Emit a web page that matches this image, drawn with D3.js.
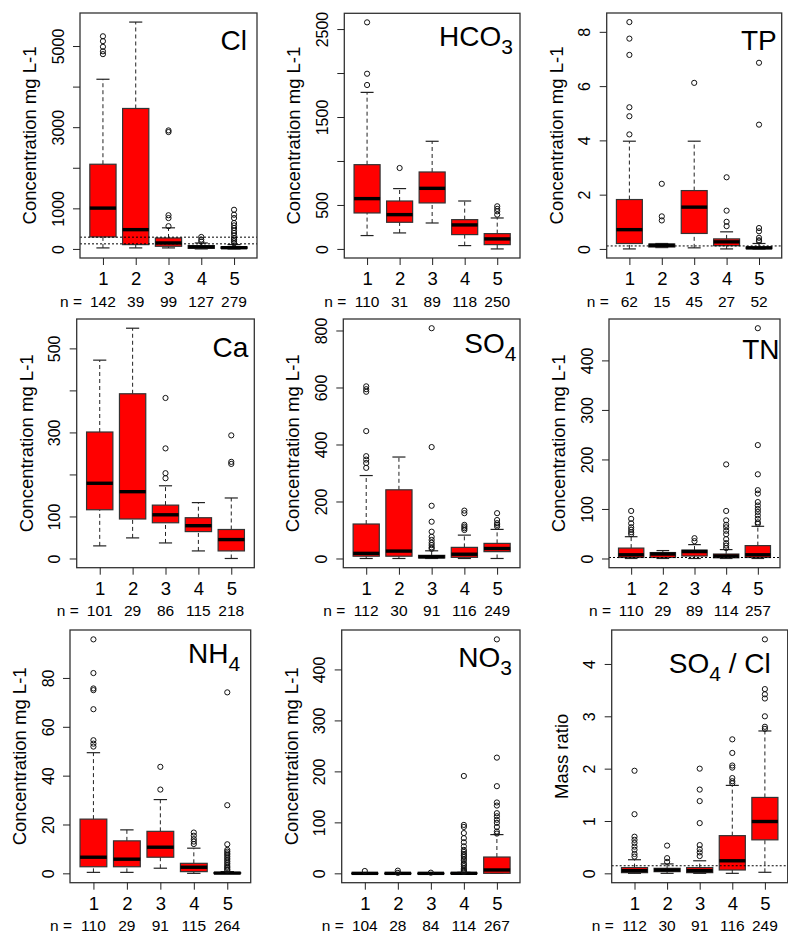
<!DOCTYPE html>
<html>
<head>
<meta charset="utf-8">
<script src="https://cdn.jsdelivr.net/npm/d3@7"></script>
<style>
body{margin:0;background:#fff}
text{font-family:"Liberation Sans",Arial,sans-serif;fill:#000}
</style>
</head>
<body>
<svg id="chart" width="788" height="936"></svg>
<script>

var groups = ["1","2","3","4","5"]

// box stats per group: [lower whisker, Q1, median, Q3, upper whisker]
var clStats = [[25,295,1006,2087,4181],[25,106,475,3461,5590],[25,65,147,270,520],[0,16,49,82,147],[0,16,30,49,106]]
var clOut = [[4800,4870,4980,5120,5240],[],[560,760,830,2880,2920],[180,230,295],[140,190,230,270,330,393,450,516,580,638,760,843,965]]
var clN = [142,39,99,127,279]
var clTicks = [0,1000,2000,3000,4000,5000]
var clLabels = ["0","1000","","3000","","5000"]
var clRef = [290,125]

var hco3Stats = [[152,409,572,958,1780],[182,303,390,545,686],[295,523,689,875,1224],[38,163,273,333,545],[0,49,114,174,352]]
var hco3Out = [[1864,1992,2576],[920],[],[],[390,428,455,485]]
var hco3N = [110,31,89,118,250]
var hco3Ticks = [0,500,1000,1500,2000,2500]
var hco3Labels = ["0","500","","1500","","2500"]
var hco3Ref = []

var tpStats = [[0,0.2,0.71,1.82,3.97],[0.05,0.07,0.135,0.18,0.2],[0.04,0.57,1.54,2.15,3.97],[0,0.12,0.26,0.37,0.63],[0,0.01,0.04,0.07,0.2]]
var tpOut = [[4.22,4.89,5.22,7.15,7.75,8.36],[1.05,1.2,2.4],[6.12],[0.84,1.0,1.41,2.64],[0.28,0.32,0.41,0.65,0.77,4.58,6.86]]
var tpN = [62,15,45,27,52]
var tpTicks = [0,2,4,6,8]
var tpLabels = ["0","2","4","6","8"]
var tpRef = [0.11]

var caStats = [[30,116,179,301,472],[49,94,159,392,548],[37,85,104,127,173],[18,64,78,97,133],[0,18,45,69,144]]
var caOut = [[],[],[191,203,262,382],[],[225,230,293]]
var caN = [101,29,86,115,218]
var caTicks = [0,100,200,300,400,500]
var caLabels = ["0","100","","300","","500"]
var caRef = []

var so4Stats = [[0,8,18,121,291],[0,8,26,241,356],[0,2,6,11,27],[0,4,15,39,82],[0,24,35,53,102]]
var so4Out = [[318,335,347,359,447,585,594,604],[],[34,39,47,55,65,76,94,129,185,391,808],[100,106,112,118,159,168],[112,118,124,135,159]]
var so4N = [112,30,91,116,249]
var so4Ticks = [0,200,400,600,800]
var so4Labels = ["0","200","400","600","800"]
var so4Ref = []

var tnStats = [[0,2,7.5,21,44],[0,2,9,12,16],[0,5,14,17,28],[0,1.4,5,9,18],[0,2,7.5,26,65]]
var tnOut = [[49,53,58,63,71,80,96],[],[35,41],[21,26,31,39,49,56,63,68,77,96,190],[70,73,80,87,94,100,107,114,131,138,170,229,465]]
var tnN = [110,29,89,114,257]
var tnTicks = [0,100,200,300,400]
var tnLabels = ["0","100","200","300","400"]
var tnRef = [2]

var nh4Stats = [[0.4,2.7,6.6,22.2,49.4],[0.4,2.7,5.8,13.3,17.8],[2.1,6.6,10.7,17.2,30.2],[0,0.7,2.5,4.1,10.3],[0,0,0.1,0.3,0.7]]
var nh4Out = [[51.9,53.1,54.5,67.2,75,75.7,82,95.8],[],[34.3,43.6],[12,13,14,15.4,16.7],[1.2,1.6,2.2,2.7,3.4,4.1,4.8,5.5,6.2,6.9,7.6,8.2,8.9,9.6,11.9,27.9,74.1]]
var nh4N = [110,29,91,115,264]
var nh4Ticks = [0,20,40,60,80]
var nh4Labels = ["0","20","40","60","80"]
var nh4Ref = []

var no3Stats = [[0,0,0,0.3,0.8],[0,0,0,0.3,0.8],[0,0,0,0.2,0.5],[0,0,0.1,0.7,2],[0,0,6.6,32,76]]
var no3Out = [[4.6],[0.9,5.3],[1.3],[3,5,7,10,14,17,20,25,28,32,35,38,42,46,53,61,69,79,91,95,191],[78,82,91,99,105,112,118,133,139,171,227,459]]
var no3N = [104,28,84,114,267]
var no3Ticks = [0,100,200,300,400]
var no3Labels = ["0","100","200","300","400"]
var no3Ref = []

var ratioStats = [[0,0.013,0.05,0.11,0.26],[0,0.032,0.064,0.096,0.18],[0,0.013,0.05,0.11,0.24],[0,0.064,0.24,0.72,1.68],[0.02,0.64,0.99,1.45,2.72]]
var ratioOut = [[0.32,0.37,0.45,0.51,0.58,0.64,0.70,1.13,1.96],[0.22,0.29,0.53],[0.33,0.40,0.46,0.54,0.96,1.38,1.6,2.0],[1.72,1.76,1.82,2.02,2.06,2.30,2.56],[2.76,2.80,3.0,3.34,3.42,3.52,4.47]]
var ratioN = [112,30,91,116,249]
var ratioTicks = [0,1,2,3,4]
var ratioLabels = ["0","1","2","3","4"]
var ratioRef = [0.145]

var conc = "Concentration mg L-1"

var panels = [
    {title:["Cl","",""], stats:clStats, out:clOut, n:clN, ticks:clTicks, labels:clLabels, ref:clRef, ylab:conc},
    {title:["HCO","3",""], stats:hco3Stats, out:hco3Out, n:hco3N, ticks:hco3Ticks, labels:hco3Labels, ref:hco3Ref, ylab:conc},
    {title:["TP","",""], stats:tpStats, out:tpOut, n:tpN, ticks:tpTicks, labels:tpLabels, ref:tpRef, ylab:conc},
    {title:["Ca","",""], stats:caStats, out:caOut, n:caN, ticks:caTicks, labels:caLabels, ref:caRef, ylab:conc},
    {title:["SO","4",""], stats:so4Stats, out:so4Out, n:so4N, ticks:so4Ticks, labels:so4Labels, ref:so4Ref, ylab:conc},
    {title:["TN","",""], stats:tnStats, out:tnOut, n:tnN, ticks:tnTicks, labels:tnLabels, ref:tnRef, ylab:conc},
    {title:["NH","4",""], stats:nh4Stats, out:nh4Out, n:nh4N, ticks:nh4Ticks, labels:nh4Labels, ref:nh4Ref, ylab:conc},
    {title:["NO","3",""], stats:no3Stats, out:no3Out, n:no3N, ticks:no3Ticks, labels:no3Labels, ref:no3Ref, ylab:conc},
    {title:["SO","4"," / Cl"], stats:ratioStats, out:ratioOut, n:ratioN, ticks:ratioTicks, labels:ratioLabels, ref:ratioRef, ylab:"Mass ratio"}
]

// plot frames (pixels) and title placement, one per panel
var frames = [
    {left:80, right:257, top:13, bottom:258, tx:10, ty:37},
    {left:344.3, right:520, top:13.3, bottom:258, tx:7, ty:32.5},
    {left:606.7, right:781.7, top:13, bottom:258, tx:5, ty:37},
    {left:76.7, right:254.3, top:319, bottom:567.7, tx:6, ty:37.5},
    {left:343.3, right:520, top:319, bottom:567.7, tx:3.5, ty:34},
    {left:609, right:780, top:319, bottom:567.7, tx:0.5, ty:40},
    {left:70, right:250.7, top:630, bottom:882.7, tx:10.5, ty:33},
    {left:341.7, right:520, top:630, bottom:882.7, tx:8, ty:36.5},
    {left:611.7, right:787.7, top:630, bottom:882.7, tx:17, ty:43}
]

var ink = "#222"

var drawPanel = function(p, f, svg)
{
    var g = svg.append("g")

    var allVals = d3.merge(p.stats.concat(p.out))
    var lo = d3.min(allVals)
    var hi = d3.max(allVals)
    var pad = (hi - lo) * 0.04

    var yScale = d3.scaleLinear()
        .domain([lo - pad, hi + pad])
        .range([f.bottom, f.top])

    var xScale = d3.scaleLinear()
        .domain([0.3, 5.7])
        .range([f.left, f.right])

    var unit = xScale(2) - xScale(1)
    var boxW = unit * 0.8
    var stapW = boxW * 0.5

    var box = g.selectAll(".box")
        .data(p.stats)
        .enter()
        .append("g")
        .attr("class","box")

    // whiskers
    box.append("line")
        .attr("x1",function(d,i){ return xScale(i+1) })
        .attr("x2",function(d,i){ return xScale(i+1) })
        .attr("y1",function(d){ return yScale(d[0]) })
        .attr("y2",function(d){ return yScale(d[1]) })
        .attr("stroke",ink).attr("stroke-dasharray","4,3")
    box.append("line")
        .attr("x1",function(d,i){ return xScale(i+1) })
        .attr("x2",function(d,i){ return xScale(i+1) })
        .attr("y1",function(d){ return yScale(d[3]) })
        .attr("y2",function(d){ return yScale(d[4]) })
        .attr("stroke",ink).attr("stroke-dasharray","4,3")

    // staples
    ;[0,4].forEach(function(k){
        box.append("line")
            .attr("x1",function(d,i){ return xScale(i+1) - stapW/2 })
            .attr("x2",function(d,i){ return xScale(i+1) + stapW/2 })
            .attr("y1",function(d){ return yScale(d[k]) })
            .attr("y2",function(d){ return yScale(d[k]) })
            .attr("stroke",ink).attr("stroke-width",1.2)
    })

    box.append("rect")
        .attr("x",function(d,i){ return xScale(i+1) - boxW/2 })
        .attr("width",boxW)
        .attr("y",function(d){ return yScale(d[3]) })
        .attr("height",function(d){ return Math.max(0.5, yScale(d[1]) - yScale(d[3])) })
        .attr("fill","#ff0000")
        .attr("stroke","#333")
        .attr("stroke-width",1.2)

    box.append("line")
        .attr("x1",function(d,i){ return xScale(i+1) - boxW/2 })
        .attr("x2",function(d,i){ return xScale(i+1) + boxW/2 })
        .attr("y1",function(d){ return yScale(d[2]) })
        .attr("y2",function(d){ return yScale(d[2]) })
        .attr("stroke","#000")
        .attr("stroke-width",3.4)

    // outliers
    p.out.forEach(function(vals, i){
        g.selectAll(".o" + i)
            .data(vals)
            .enter()
            .append("circle")
            .attr("cx",xScale(i+1))
            .attr("cy",function(d){ return yScale(d) })
            .attr("r",2.6)
            .attr("fill","none")
            .attr("stroke","#111")
            .attr("stroke-width",1)
    })

    // reference lines
    g.selectAll(".ref")
        .data(p.ref)
        .enter()
        .append("line")
        .attr("x1",f.left).attr("x2",f.right)
        .attr("y1",function(d){ return yScale(d) })
        .attr("y2",function(d){ return yScale(d) })
        .attr("stroke","#000")
        .attr("stroke-dasharray","2,2")

    // frame
    g.append("rect")
        .attr("x",f.left).attr("y",f.top)
        .attr("width",f.right - f.left)
        .attr("height",f.bottom - f.top)
        .attr("fill","none")
        .attr("stroke","#333")
        .attr("stroke-width",1.3)

    var yAxis = d3.axisLeft(yScale)
        .tickValues(p.ticks)
        .tickSize(7)
        .tickFormat(function(d,i){ return p.labels[i] })
    var ya = g.append("g")
        .attr("transform","translate(" + f.left + ",0)")
        .call(yAxis)
    ya.select(".domain").remove()
    ya.attr("font-size",16).attr("font-family",null).attr("color",ink)
    ya.selectAll("text")
        .attr("x",0).attr("y",-16.5).attr("dy",0)
        .attr("text-anchor","middle")
        .attr("transform","rotate(-90)")

    var xAxis = d3.axisBottom(xScale)
        .tickValues([1,2,3,4,5])
        .tickSize(7)
        .tickFormat(function(d){ return groups[d-1] })
    var xa = g.append("g")
        .attr("transform","translate(0," + f.bottom + ")")
        .call(xAxis)
    xa.select(".domain").remove()
    xa.attr("font-size",18.5).attr("font-family",null).attr("color",ink)
    xa.selectAll("text").attr("y",27.3).attr("dy",0)

    // sample sizes
    g.append("text")
        .attr("x",f.left + 2).attr("y",f.bottom + 48.5)
        .attr("text-anchor","end").attr("font-size",15.5)
        .text("n = ")
    g.selectAll(".nlab")
        .data(p.n)
        .enter()
        .append("text")
        .attr("x",function(d,i){ return xScale(i+1) })
        .attr("y",f.bottom + 48.5)
        .attr("text-anchor","middle").attr("font-size",15.5)
        .text(function(d){ return d })

    // y label
    g.append("text")
        .attr("transform","translate(" + (f.left - 44) + "," + ((f.top + f.bottom)/2) + ") rotate(-90)")
        .attr("text-anchor","middle").attr("font-size",18.5)
        .text(p.ylab)

    // title
    var t = g.append("text")
        .attr("x",f.right - f.tx).attr("y",f.top + f.ty)
        .attr("text-anchor","end").attr("font-size",28)
    t.append("tspan").text(p.title[0])
    if (p.title[1] != "") {
        t.append("tspan").attr("font-size",21).attr("dy",8).text(p.title[1])
    }
    if (p.title[2] != "") {
        t.append("tspan").attr("dy",-8).text(p.title[2])
    }
}

var svg = d3.select("#chart")
panels.forEach(function(p, i){
    drawPanel(p, frames[i], svg)
})

</script>
</body>
</html>
